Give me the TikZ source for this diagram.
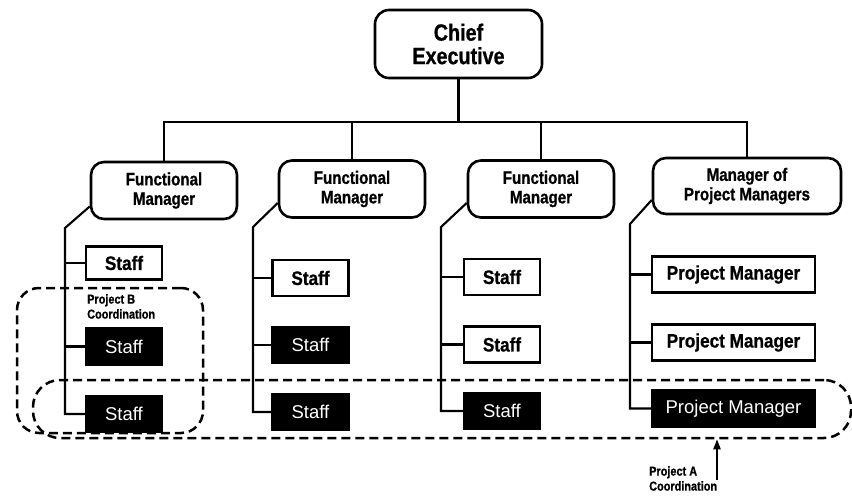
\documentclass[tikz,border=0pt]{standalone}
\usepackage{fontspec}
\setmainfont{Liberation Sans}
% heavy, slightly narrowed face for the box labels
\newfontfamily\heavyface{Liberation Sans Bold}[FakeStretch=0.88, FakeBold=0.8]
\newfontfamily\narrowheavy{Liberation Sans Bold}[FakeStretch=0.84, FakeBold=0.8]
\usetikzlibrary{arrows.meta}

\begin{document}
\begin{tikzpicture}[x=1pt,y=-1pt,
  chiefbox/.style={draw, line width=2.6pt, rounded corners=14pt, align=center,
    minimum width=167pt, minimum height=68pt, inner sep=0pt,
    font=\narrowheavy\fontsize{23.5}{23.5}\selectfont},
  mgrbox/.style={draw, line width=2.6pt, rounded corners=13pt, align=center,
    minimum width=146pt, minimum height=57pt, inner sep=0pt,
    font=\narrowheavy\fontsize{18}{19.5}\selectfont},
  staffbox/.style={draw, line width=2.4pt, minimum width=76pt, minimum height=36pt,
    inner sep=0pt, font=\heavyface\fontsize{19.5}{20}\selectfont},
  darkbox/.style={staffbox, fill=black, text=white,
    font=\fontsize{18.5}{20}\selectfont},
  wide/.style={minimum width=163pt},
  link/.style={line width=2.1pt},
  groupline/.style={draw, line width=2.5pt, dash pattern=on 9pt off 5pt},
  note/.style={align=left, inner sep=0pt,
    font=\narrowheavy\fontsize{13}{15}\selectfont}
]
\useasboundingbox (0,0) rectangle (852,498);

% coordination groups
\node[groupline, rounded corners=22pt, minimum width=186pt, minimum height=145pt]
  (grpB) at (110,360.5) {};
\node[groupline, rounded corners=27pt, minimum width=818pt, minimum height=58pt]
  (grpA) at (442,409) {};

% top of the hierarchy
\node[chiefbox] (chief) at (458.5,44) {Chief\\Executive};
\node[mgrbox] (fm1) at (164,190.5) {Functional\\Manager};
\node[mgrbox] (fm2) at (352,189) {Functional\\Manager};
\node[mgrbox] (fm3) at (541,189) {Functional\\Manager};
\node[mgrbox, minimum width=188pt, minimum height=56pt] (mpm) at (747,186)
  {Manager of\\Project Managers};

% bus from the chief executive to the managers
\coordinate (bus) at (458.5,122);
\draw[link] (chief.south) -- (bus);
\draw[link] (fm1.north) -- (fm1.north |- bus) -- (mpm.north |- bus) -- (mpm.north);
\draw[link] (fm2.north) -- (fm2.north |- bus);
\draw[link] (fm3.north) -- (fm3.north |- bus);

% first functional department
\node[staffbox, minimum height=33pt] (s11) at (124,263) {Staff};
\node[darkbox] (s12) at (124,346.5) {Staff};
\node[darkbox] (s13) at (124,414) {Staff};
% second functional department
\node[staffbox] (s21) at (310.5,278) {Staff};
\node[darkbox] (s22) at (310.5,345) {Staff};
\node[darkbox] (s23) at (310.5,412) {Staff};
% third functional department
\node[staffbox] (s31) at (502,277) {Staff};
\node[staffbox] (s32) at (502,344.5) {Staff};
\node[darkbox] (s33) at (502,411) {Staff};
% project managers
\node[staffbox, wide] (p1) at (733.5,274.5) {Project Manager};
\node[staffbox, wide] (p2) at (733.5,342.5) {Project Manager};
\node[darkbox, wide] (p3) at (733.5,408.5) {Project Manager};

% spines down each department
\coordinate (k1) at (65,228);
\coordinate (k2) at (253,227);
\coordinate (k3) at (441,227);
\coordinate (k4) at (630,224);
\draw[link] ([yshift=-16pt]fm1.west) -- (k1) |- (s13.west);
\draw[link] (k1 |- s11.west) -- (s11.west);
\draw[link] (k1 |- s12.west) -- (s12.west);
\draw[link] ([yshift=-14pt]fm2.west) -- (k2) |- (s23.west);
\draw[link] (k2 |- s21.west) -- (s21.west);
\draw[link] (k2 |- s22.west) -- (s22.west);
\draw[link] ([yshift=-14pt]fm3.west) -- (k3) |- (s33.west);
\draw[link] (k3 |- s31.west) -- (s31.west);
\draw[link] (k3 |- s32.west) -- (s32.west);
\draw[link] ([yshift=-14pt]mpm.west) -- (k4) |- (p3.west);
\draw[link] (k4 |- p1.west) -- (p1.west);
\draw[link] (k4 |- p2.west) -- (p2.west);

% labels of the two coordination groups
\node[note, anchor=north west] (labB) at (87,294) {Project B\\Coordination};
\node[note, anchor=north west] (labA) at (649,466) {Project A\\Coordination};
\coordinate (arrA) at (717,480);
\draw[link, -{Triangle[length=10pt,width=7pt]}] (arrA) -- (grpA.south -| arrA);
\end{tikzpicture}
\end{document}
